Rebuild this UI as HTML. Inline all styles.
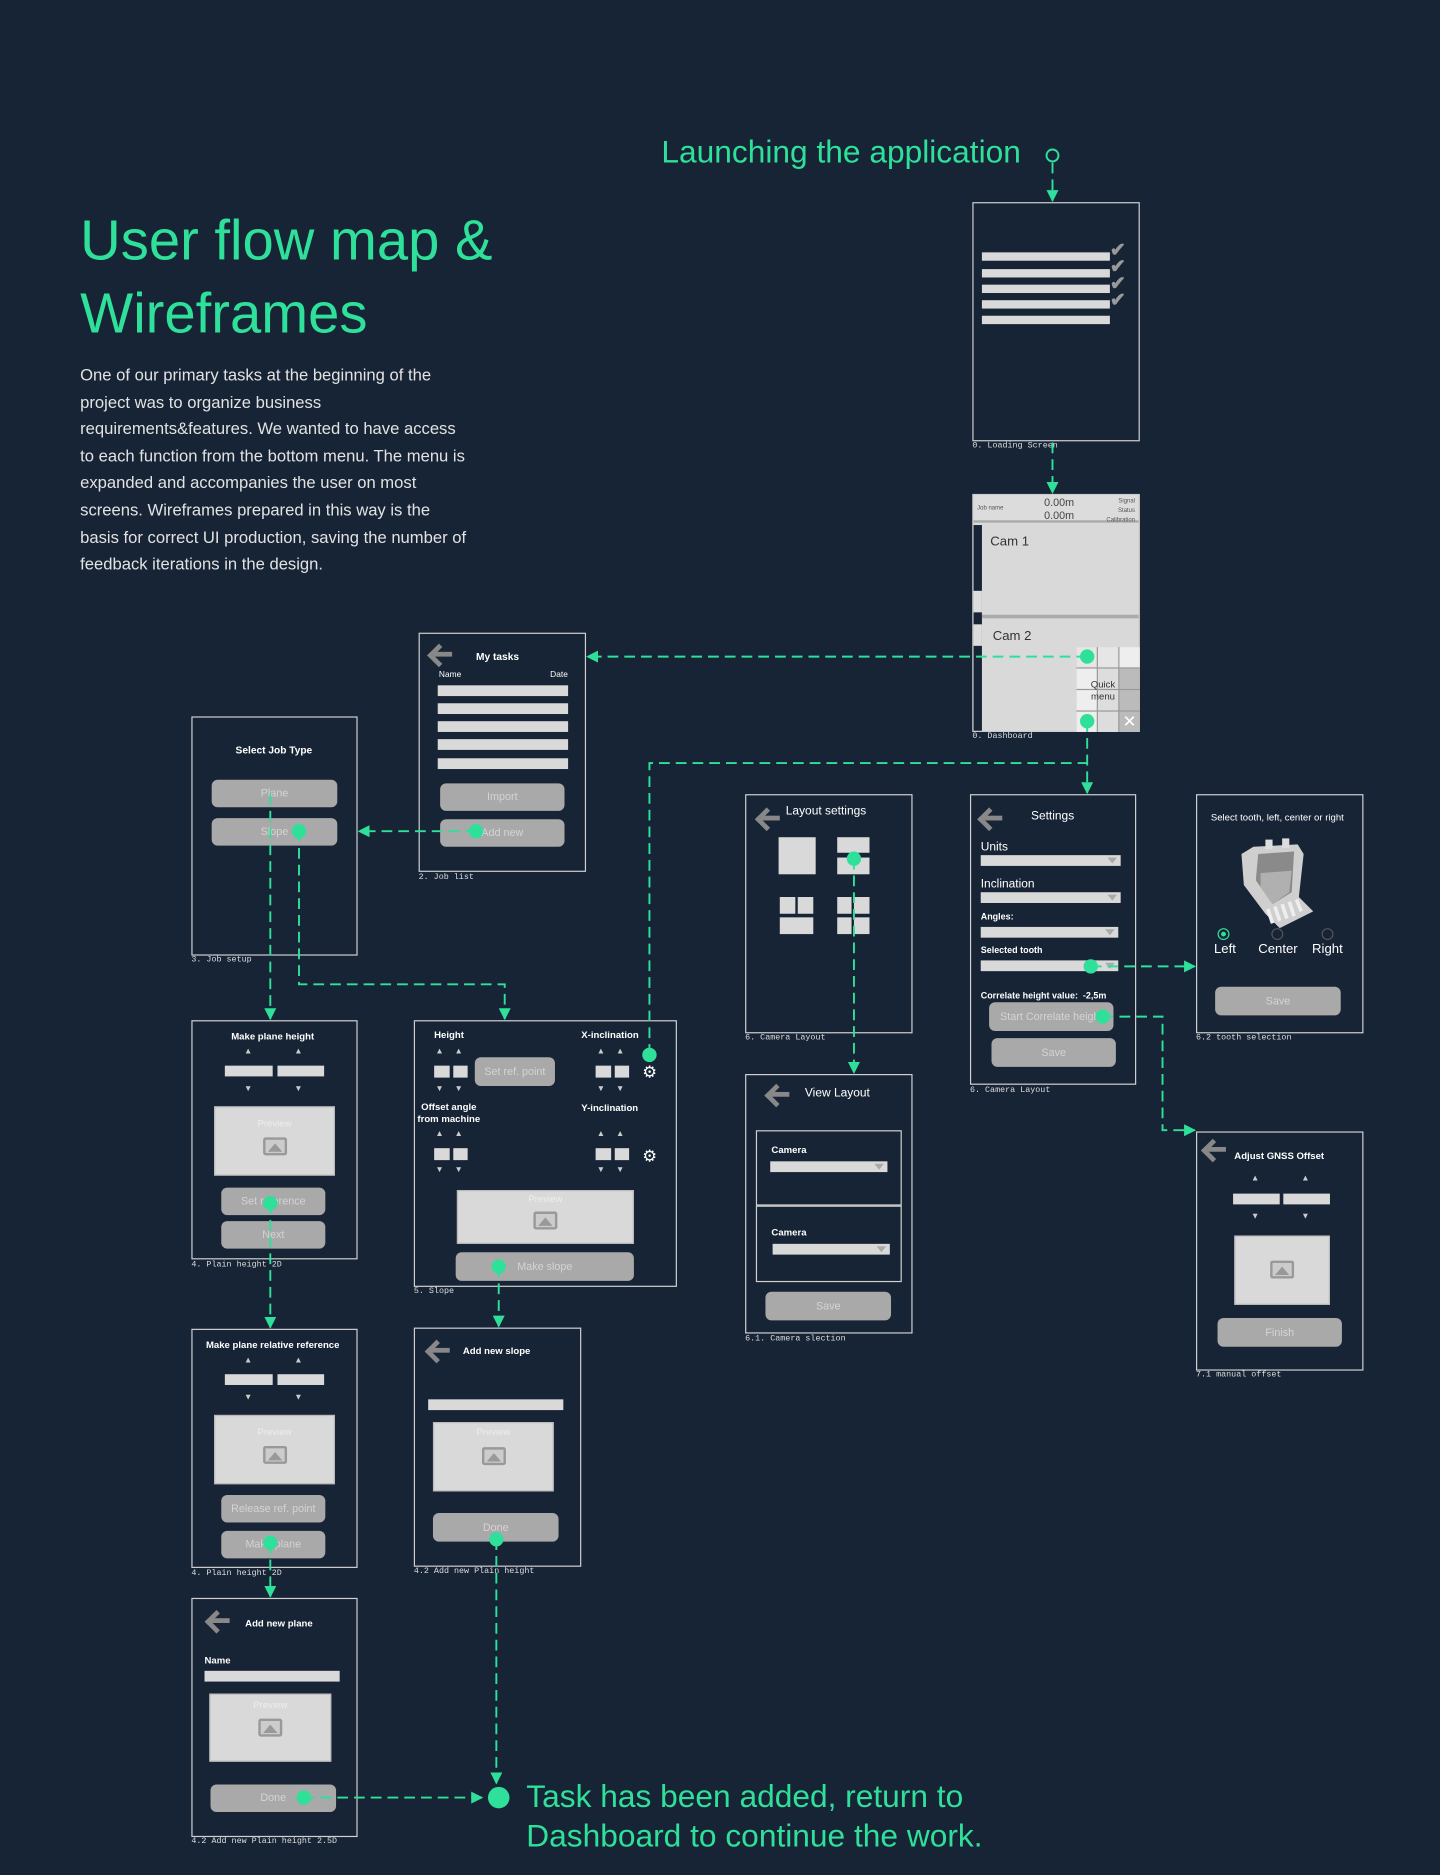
<!DOCTYPE html>
<html><head><meta charset="utf-8"><style>
*{margin:0;padding:0;box-sizing:border-box}
html,body{width:1440px;height:1875px;background:#172435;overflow:hidden}
#w{position:absolute;left:0;top:0;width:1204px;height:1568px;transform:scale(1.19601);transform-origin:0 0;font-family:"Liberation Sans",sans-serif}
.a{position:absolute}
.f{position:absolute;border:1px solid #d0d0d0}
.l{position:absolute;font-family:"Liberation Mono",monospace;font-size:7px;color:#ddd;white-space:nowrap}
.t{position:absolute;color:#fff;font-size:9px;white-space:nowrap}
.c{transform:translateX(-50%)}
.b{position:absolute;background:#a9a9a9;border-radius:5px;color:#d4d4d4;font-size:9px;text-align:center}
.bar{position:absolute;background:#d9d9d9}
.pv{position:absolute;background:#d9d9d9;border:1px solid #bbb;color:#eee;font-size:8px;text-align:center}
.ic{position:absolute;left:50%;width:20px;height:15px;margin-left:-10px;border:2px solid #999;border-radius:2px;background:#ccc}
.ic:after{content:"";position:absolute;left:2px;bottom:1px;border-left:6px solid transparent;border-right:6px solid transparent;border-bottom:7px solid #999}
.ar{position:absolute;color:#ccc;font-size:7px}
.bk{position:absolute;width:20px;height:16px}
.bk:before{content:"";position:absolute;left:0;top:2px;width:10px;height:10px;border-left:4px solid #888;border-bottom:4px solid #888;transform:rotate(45deg)}
.bk:after{content:"";position:absolute;left:2px;top:6px;width:16px;height:4px;background:#888}
.dd{position:absolute;background:#d9d9d9}
.dd:after{content:"";position:absolute;right:3px;top:2px;border-left:4px solid transparent;border-right:4px solid transparent;border-top:5px solid #aaa}
.gear{position:absolute;color:#fff;font-size:14px;line-height:14px}
</style></head><body><div id="w">

<div class="a" style="left:67px;top:170px;color:#2fe09a;font-size:47px;line-height:61px">User flow map &amp;<br>Wireframes</div>
<div class="a" style="left:67px;top:302px;width:325px;color:#e2e2e2;font-size:13.9px;line-height:22.6px">One of our primary tasks at the beginning of the project was to organize business requirements&amp;features. We wanted to have access to each function from the bottom menu. The menu is expanded and accompanies the user on most screens. Wireframes prepared in this way is the basis for correct UI production, saving the number of feedback iterations in the design.</div>
<div class="a" style="left:553px;top:112px;color:#2fe09a;font-size:26.5px;white-space:nowrap">Launching the application</div>
<div class="a" style="left:440px;top:1486px;color:#2fe09a;font-size:26.5px;line-height:33px;white-space:nowrap">Task has been added, return to<br>Dashboard to continue the work.</div>

<!-- Loading -->
<div class="f" style="left:813px;top:169px;width:140px;height:200px"></div>
<div class="bar" style="left:821px;top:211px;width:107px;height:7px"></div>
<div class="bar" style="left:821px;top:225px;width:107px;height:7px"></div>
<div class="bar" style="left:821px;top:238px;width:107px;height:7px"></div>
<div class="bar" style="left:821px;top:251px;width:107px;height:7px"></div>
<div class="bar" style="left:821px;top:264px;width:107px;height:7px"></div>
<div class="a" style="left:928px;top:203px;color:#999;font-size:16px;line-height:14px;font-weight:bold">✔<br>✔<br>✔<br>✔</div>
<div class="l" style="left:813px;top:369px">0. Loading Screen</div>

<!-- Dashboard -->
<div class="a" style="left:813px;top:413px;width:140px;height:199px;background:#d9d9d9;border:1px solid #ccc"></div>
<div class="a" style="left:814px;top:414px;width:138px;height:23px;background:#dcdcdc;border-bottom:2px solid #aaa"></div>
<div class="a" style="left:817px;top:422px;font-size:5px;color:#555">Job name</div>
<div class="a" style="left:873px;top:415px;font-size:9px;color:#444;line-height:11px">0.00m<br>0.00m</div>
<div class="a" style="left:915px;top:415px;font-size:5px;color:#555;line-height:8px;text-align:right;width:34px">Signal<br>Status<br>Calibration</div>
<div class="a" style="left:814px;top:439px;width:7px;height:172px;background:#172435"></div>
<div class="a" style="left:814px;top:494px;width:7px;height:18px;background:#ddd"></div>
<div class="a" style="left:814px;top:522px;width:7px;height:18px;background:#ddd"></div>
<div class="a" style="left:821px;top:514px;width:131px;height:3px;background:#aaa"></div>
<div class="a" style="left:828px;top:447px;font-size:11px;color:#333">Cam 1</div>
<div class="a" style="left:830px;top:526px;font-size:11px;color:#333">Cam 2</div>
<div class="a" style="left:900px;top:541px;width:53px;height:71px;background:#999;display:grid;grid-template-columns:repeat(3,1fr);grid-template-rows:repeat(4,1fr);gap:1px">
<div style="background:#e6e6e6"></div><div style="background:#e6e6e6"></div><div style="background:#eee"></div>
<div style="background:#eee"></div><div style="background:#ddd"></div><div style="background:#bbb"></div>
<div style="background:#eee"></div><div style="background:#ddd"></div><div style="background:#bbb"></div>
<div style="background:#eee"></div><div style="background:#ddd"></div><div style="background:#bbb;color:#fff;font-size:14px;text-align:center;line-height:17px">✕</div></div>
<div class="a" style="left:912px;top:568px;font-size:8px;color:#333;text-align:center;line-height:10px">Quick<br>menu</div>
<div class="l" style="left:813px;top:612px">0. Dashboard</div>

<!-- My tasks -->
<div class="f" style="left:350px;top:529px;width:140px;height:200px"></div>
<div class="bk" style="left:360px;top:539px"></div>
<div class="t c" style="left:416px;top:544px;font-weight:bold;font-size:8.5px">My tasks</div>
<div class="t" style="left:367px;top:561px;font-size:7px">Name</div>
<div class="t" style="left:460px;top:561px;font-size:7px">Date</div>
<div class="bar" style="left:366px;top:573px;width:109px;height:9px"></div>
<div class="bar" style="left:366px;top:588px;width:109px;height:9px"></div>
<div class="bar" style="left:366px;top:603px;width:109px;height:9px"></div>
<div class="bar" style="left:366px;top:618px;width:109px;height:9px"></div>
<div class="bar" style="left:366px;top:634px;width:109px;height:9px"></div>
<div class="b" style="left:368px;top:655px;width:104px;height:23px;line-height:23px">Import</div>
<div class="b" style="left:368px;top:685px;width:104px;height:23px;line-height:23px">Add new</div>
<div class="l" style="left:350px;top:730px">2. Job list</div>

<!-- Select Job Type -->
<div class="f" style="left:160px;top:599px;width:139px;height:200px"></div>
<div class="t c" style="left:229px;top:622px;font-weight:bold;font-size:8.5px">Select Job Type</div>
<div class="b" style="left:177px;top:652px;width:105px;height:23px;line-height:23px">Plane</div>
<div class="b" style="left:177px;top:684px;width:105px;height:23px;line-height:23px">Slope</div>
<div class="l" style="left:160px;top:799px">3. Job setup</div>

<!-- Make plane height -->
<div class="f" style="left:160px;top:853px;width:139px;height:200px"></div>
<div class="t c" style="left:228px;top:862px;font-weight:bold;font-size:8px">Make plane height</div>
<div class="ar" style="left:204px;top:876px">▲</div><div class="ar" style="left:246px;top:876px">▲</div>
<div class="bar" style="left:188px;top:891px;width:40px;height:9px"></div><div class="bar" style="left:232px;top:891px;width:39px;height:9px"></div>
<div class="ar" style="left:204px;top:907px">▼</div><div class="ar" style="left:246px;top:907px">▼</div>
<div class="pv" style="left:179px;top:925px;width:101px;height:58px;padding-top:9px">Preview<div class="ic" style="top:25px"></div></div>
<div class="b" style="left:185px;top:993px;width:87px;height:23px;line-height:23px">Set reference</div>
<div class="b" style="left:185px;top:1021px;width:87px;height:23px;line-height:23px">Next</div>
<div class="l" style="left:160px;top:1054px">4. Plain height 2D</div>

<!-- Make plane relative -->
<div class="f" style="left:160px;top:1111px;width:139px;height:200px"></div>
<div class="t c" style="left:228px;top:1120px;font-weight:bold;font-size:8px">Make plane relative reference</div>
<div class="ar" style="left:204px;top:1134px">▲</div><div class="ar" style="left:246px;top:1134px">▲</div>
<div class="bar" style="left:188px;top:1149px;width:40px;height:9px"></div><div class="bar" style="left:232px;top:1149px;width:39px;height:9px"></div>
<div class="ar" style="left:204px;top:1165px">▼</div><div class="ar" style="left:246px;top:1165px">▼</div>
<div class="pv" style="left:179px;top:1183px;width:101px;height:58px;padding-top:9px">Preview<div class="ic" style="top:25px"></div></div>
<div class="b" style="left:185px;top:1250px;width:87px;height:23px;line-height:23px">Release ref. point</div>
<div class="b" style="left:185px;top:1280px;width:87px;height:23px;line-height:23px">Make plane</div>
<div class="l" style="left:160px;top:1312px">4. Plain height 2D</div>

<!-- Add new plane -->
<div class="f" style="left:160px;top:1336px;width:139px;height:200px"></div>
<div class="bk" style="left:174px;top:1347px"></div>
<div class="t" style="left:205px;top:1353px;font-weight:bold;font-size:8px">Add new plane</div>
<div class="t" style="left:171px;top:1384px;font-weight:bold;font-size:8px">Name</div>
<div class="bar" style="left:171px;top:1397px;width:113px;height:9px"></div>
<div class="pv" style="left:175px;top:1416px;width:102px;height:57px;padding-top:4px">Preview<div class="ic" style="top:20px"></div></div>
<div class="b" style="left:176px;top:1492px;width:105px;height:23px;line-height:23px">Done</div>
<div class="l" style="left:160px;top:1536px">4.2 Add new Plain height 2.5D</div>

<!-- Slope -->
<div class="f" style="left:346px;top:853px;width:220px;height:223px"></div>
<div class="t" style="left:363px;top:861px;font-weight:bold;font-size:8px">Height</div>
<div class="t" style="left:486px;top:861px;font-weight:bold;font-size:8px">X-inclination</div>
<div class="ar" style="left:364px;top:876px">▲</div><div class="ar" style="left:380px;top:876px">▲</div>
<div class="bar" style="left:363px;top:891px;width:13px;height:10px"></div><div class="bar" style="left:379px;top:891px;width:12px;height:10px"></div>
<div class="ar" style="left:364px;top:907px">▼</div><div class="ar" style="left:380px;top:907px">▼</div>
<div class="b" style="left:397px;top:884px;width:67px;height:24px;line-height:24px">Set ref. point</div>
<div class="ar" style="left:499px;top:876px">▲</div><div class="ar" style="left:515px;top:876px">▲</div>
<div class="bar" style="left:498px;top:891px;width:13px;height:10px"></div><div class="bar" style="left:514px;top:891px;width:12px;height:10px"></div>
<div class="ar" style="left:499px;top:907px">▼</div><div class="ar" style="left:515px;top:907px">▼</div>
<div class="gear" style="left:537px;top:889px">⚙</div>
<div class="t" style="left:349px;top:921px;font-weight:bold;font-size:8px;line-height:10px;text-align:center">Offset angle<br>from machine</div>
<div class="t" style="left:486px;top:922px;font-weight:bold;font-size:8px">Y-inclination</div>
<div class="ar" style="left:364px;top:945px">▲</div><div class="ar" style="left:380px;top:945px">▲</div>
<div class="bar" style="left:363px;top:960px;width:13px;height:10px"></div><div class="bar" style="left:379px;top:960px;width:12px;height:10px"></div>
<div class="ar" style="left:364px;top:975px">▼</div><div class="ar" style="left:380px;top:975px">▼</div>
<div class="ar" style="left:499px;top:945px">▲</div><div class="ar" style="left:515px;top:945px">▲</div>
<div class="bar" style="left:498px;top:960px;width:13px;height:10px"></div><div class="bar" style="left:514px;top:960px;width:12px;height:10px"></div>
<div class="ar" style="left:499px;top:975px">▼</div><div class="ar" style="left:515px;top:975px">▼</div>
<div class="gear" style="left:537px;top:959px">⚙</div>
<div class="pv" style="left:382px;top:995px;width:148px;height:45px;padding-top:2px">Preview<div class="ic" style="top:17px"></div></div>
<div class="b" style="left:381px;top:1047px;width:149px;height:24px;line-height:24px">Make slope</div>
<div class="l" style="left:346px;top:1076px">5. Slope</div>

<!-- Add new slope -->
<div class="f" style="left:346px;top:1110px;width:140px;height:200px"></div>
<div class="bk" style="left:358px;top:1121px"></div>
<div class="t" style="left:387px;top:1125px;font-weight:bold;font-size:8px">Add new slope</div>
<div class="bar" style="left:358px;top:1170px;width:113px;height:9px"></div>
<div class="pv" style="left:362px;top:1189px;width:101px;height:58px;padding-top:3px">Preview<div class="ic" style="top:20px"></div></div>
<div class="b" style="left:362px;top:1265px;width:105px;height:24px;line-height:24px">Done</div>
<div class="l" style="left:346px;top:1310px">4.2 Add new Plain height</div>

<!-- Layout settings -->
<div class="f" style="left:623px;top:664px;width:140px;height:200px"></div>
<div class="bk" style="left:634px;top:676px"></div>
<div class="t" style="left:657px;top:673px;font-size:10px">Layout settings</div>
<div class="bar" style="left:651px;top:700px;width:31px;height:31px"></div>
<div class="bar" style="left:700px;top:700px;width:27px;height:13px"></div><div class="bar" style="left:700px;top:717px;width:27px;height:14px"></div>
<div class="bar" style="left:652px;top:750px;width:13px;height:14px"></div><div class="bar" style="left:667px;top:750px;width:13px;height:14px"></div>
<div class="bar" style="left:652px;top:767px;width:28px;height:14px"></div>
<div class="bar" style="left:700px;top:750px;width:12px;height:14px"></div><div class="bar" style="left:714px;top:750px;width:13px;height:14px"></div>
<div class="bar" style="left:700px;top:767px;width:12px;height:14px"></div><div class="bar" style="left:714px;top:767px;width:13px;height:14px"></div>
<div class="l" style="left:623px;top:864px">6. Camera Layout</div>

<!-- View layout -->
<div class="f" style="left:623px;top:898px;width:140px;height:217px"></div>
<div class="bk" style="left:642px;top:907px"></div>
<div class="t" style="left:673px;top:909px;font-size:10px">View Layout</div>
<div class="f" style="left:632px;top:945px;width:122px;height:63px"></div>
<div class="t" style="left:645px;top:957px;font-size:8px;font-weight:bold">Camera</div>
<div class="dd" style="left:644px;top:971px;width:98px;height:9px"></div>
<div class="f" style="left:632px;top:1008px;width:122px;height:64px"></div>
<div class="t" style="left:645px;top:1026px;font-size:8px;font-weight:bold">Camera</div>
<div class="dd" style="left:646px;top:1040px;width:98px;height:9px"></div>
<div class="b" style="left:640px;top:1080px;width:105px;height:24px;line-height:24px">Save</div>
<div class="l" style="left:623px;top:1116px">6.1. Camera slection</div>

<!-- Settings -->
<div class="f" style="left:811px;top:664px;width:139px;height:243px"></div>
<div class="bk" style="left:820px;top:676px"></div>
<div class="t" style="left:862px;top:677px;font-size:10px">Settings</div>
<div class="t" style="left:820px;top:703px;font-size:10px">Units</div>
<div class="dd" style="left:820px;top:715px;width:117px;height:9px"></div>
<div class="t" style="left:820px;top:734px;font-size:10px">Inclination</div>
<div class="dd" style="left:820px;top:746px;width:117px;height:9px"></div>
<div class="t" style="left:820px;top:762px;font-size:7.5px;font-weight:bold">Angles:</div>
<div class="dd" style="left:820px;top:775px;width:115px;height:9px"></div>
<div class="t" style="left:820px;top:790px;font-size:7.5px;font-weight:bold">Selected tooth</div>
<div class="dd" style="left:820px;top:803px;width:115px;height:9px"></div>
<div class="t" style="left:820px;top:828px;font-size:7.5px;font-weight:bold">Correlate height value:&nbsp;&nbsp;-2,5m</div>
<div class="b" style="left:827px;top:838px;width:104px;height:24px;line-height:24px">Start Correlate height</div>
<div class="b" style="left:829px;top:868px;width:104px;height:24px;line-height:24px">Save</div>
<div class="l" style="left:811px;top:908px">6. Camera Layout</div>

<!-- Tooth -->
<div class="f" style="left:1000px;top:664px;width:140px;height:200px"></div>
<div class="t c" style="left:1068px;top:679px;font-size:8px">Select tooth, left, center or right</div>
<svg class="a" style="left:1030px;top:700px" width="76" height="78" viewBox="0 0 76 78">
<path d="M18 8 L55 6 L60 14 L56 50 L68 62 L40 76 L28 64 L10 40 L8 14 Z" fill="#cfcfcf"/>
<path d="M22 14 L52 12 L50 46 L34 56 L20 36 Z" fill="#8a8a8a"/>
<path d="M24 30 L50 28 L48 46 L34 56 L24 42 Z" fill="#b0b0b0"/>
<path d="M30 60 l4 12 M36 58 l4 12 M42 56 l4 12 M48 54 l4 12 M54 52 l4 10" stroke="#eee" stroke-width="3"/>
<rect x="28" y="2" width="6" height="8" fill="#ddd"/><rect x="42" y="1" width="6" height="8" fill="#ddd"/>
</svg>
<div class="a" style="left:1018px;top:776px;width:10px;height:10px;border-radius:50%;border:1px solid #2fe09a"><div style="margin:2px;width:4px;height:4px;border-radius:50%;background:#2fe09a"></div></div>
<div class="a" style="left:1063px;top:776px;width:10px;height:10px;border-radius:50%;border:1px solid #555"></div>
<div class="a" style="left:1105px;top:776px;width:10px;height:10px;border-radius:50%;border:1px solid #555"></div>
<div class="t" style="left:1015px;top:788px;font-size:11px">Left</div>
<div class="t" style="left:1052px;top:788px;font-size:11px">Center</div>
<div class="t" style="left:1097px;top:788px;font-size:11px">Right</div>
<div class="b" style="left:1016px;top:825px;width:105px;height:24px;line-height:24px">Save</div>
<div class="l" style="left:1000px;top:864px">6.2 tooth selection</div>

<!-- GNSS -->
<div class="f" style="left:1000px;top:946px;width:140px;height:200px"></div>
<div class="bk" style="left:1007px;top:953px"></div>
<div class="t" style="left:1032px;top:962px;font-size:8px;font-weight:bold">Adjust GNSS Offset</div>
<div class="ar" style="left:1046px;top:982px">▲</div><div class="ar" style="left:1088px;top:982px">▲</div>
<div class="bar" style="left:1031px;top:998px;width:39px;height:9px"></div><div class="bar" style="left:1073px;top:998px;width:39px;height:9px"></div>
<div class="ar" style="left:1046px;top:1014px">▼</div><div class="ar" style="left:1088px;top:1014px">▼</div>
<div class="pv" style="left:1032px;top:1033px;width:80px;height:58px"><div class="ic" style="top:20px"></div></div>
<div class="b" style="left:1018px;top:1102px;width:104px;height:24px;line-height:24px">Finish</div>
<div class="l" style="left:1000px;top:1146px">7.1 manual offset</div>

<!-- connectors -->
<svg class="a" style="left:0;top:0" width="1204" height="1568">
<defs><marker id="m" markerWidth="10" markerHeight="10" refX="9" refY="5" orient="auto" markerUnits="userSpaceOnUse"><path d="M0 0 L10 5 L0 10 Z" fill="#2fe09a"/></marker></defs>
<g fill="none" stroke="#2fe09a" stroke-width="1.6" stroke-dasharray="9,5">
<path d="M880 136 V168" marker-end="url(#m)"/>
<path d="M880 370 V412" marker-end="url(#m)"/>
<path d="M909 549 H491" marker-end="url(#m)"/>
<path d="M909 603 V663" marker-end="url(#m)"/>
<path d="M543 882 V638 H909"/>
<path d="M398 695 H300" marker-end="url(#m)"/>
<path d="M226 664 V852" marker-end="url(#m)"/>
<path d="M250 695 V823 H422 V852" marker-end="url(#m)"/>
<path d="M226 1006 V1110" marker-end="url(#m)"/>
<path d="M226 1290 V1335" marker-end="url(#m)"/>
<path d="M417 1059 V1109" marker-end="url(#m)"/>
<path d="M415 1287 V1491" marker-end="url(#m)"/>
<path d="M254 1503 H403" marker-end="url(#m)"/>
<path d="M714 718 V897" marker-end="url(#m)"/>
<path d="M912 808 H999" marker-end="url(#m)"/>
<path d="M922 850 H972 V945 H999" marker-end="url(#m)"/>
</g>
<circle cx="880" cy="130" r="5" fill="none" stroke="#2fe09a" stroke-width="1.6"/>
<g fill="#2fe09a">
<circle cx="909" cy="549" r="6"/><circle cx="909" cy="603" r="6"/><circle cx="398" cy="695" r="6"/>
<circle cx="250" cy="695" r="6"/><circle cx="226" cy="1006" r="6"/><circle cx="226" cy="1290" r="6"/>
<circle cx="254" cy="1503" r="6"/><circle cx="417" cy="1059" r="6"/><circle cx="415" cy="1287" r="6"/>
<circle cx="543" cy="882" r="6"/><circle cx="714" cy="718" r="6"/><circle cx="912" cy="808" r="6"/>
<circle cx="922" cy="850" r="6"/><circle cx="417" cy="1503" r="9"/>
</g>
</svg>
</div></body></html>
